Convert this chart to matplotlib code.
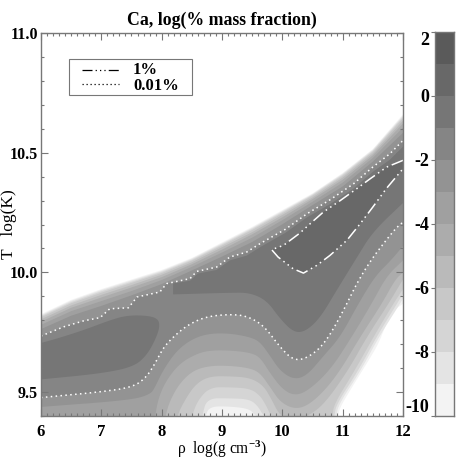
import numpy as np
import matplotlib
matplotlib.use('Agg')
import matplotlib.pyplot as plt
from matplotlib.colors import ListedColormap
from matplotlib.patches import Rectangle
from matplotlib.ticker import MultipleLocator

plt.rcParams['font.family'] = 'Liberation Serif'
plt.rcParams['font.weight'] = 'bold'
plt.rcParams['mathtext.fontset'] = 'custom'
plt.rcParams['mathtext.rm'] = 'Liberation Serif:bold'
plt.rcParams['mathtext.default'] = 'rm'
plt.rcParams['axes.unicode_minus'] = False

# colour band limits, log(% mass fraction)
levels = [-10, -9, -8, -7, -6, -5, -4, -3, -2, -1, 0, 1, 2]
grays = ['#f3f3f3', '#e4e4e4', '#d5d5d5', '#c8c8c8', '#bababa', '#acacac',
         '#a0a0a0', '#939393', '#858585', '#767676', '#686868', '#5a5a5a']

# upper edge of the abundance, per level, read at these densities
rho_top = [6, 6.5, 7, 7.5, 8, 8.5, 9, 9.5, 10, 10.5, 11, 11.5, 12]
top_m3 = [9.763, 9.819, 9.86, 9.904, 9.951, 10.008, 10.066, 10.127, 10.201, 10.281, 10.359, 10.463, 10.583]
top_m4 = [9.781, 9.838, 9.88, 9.922, 9.968, 10.023, 10.083, 10.145, 10.218, 10.295, 10.375, 10.478, 10.605]
top_m5 = [9.794, 9.852, 9.895, 9.937, 9.98, 10.034, 10.095, 10.159, 10.23, 10.306, 10.387, 10.489, 10.622]
top_m6 = [9.804, 9.862, 9.906, 9.947, 9.99, 10.042, 10.105, 10.168, 10.24, 10.313, 10.396, 10.497, 10.634]
top_m7 = [9.812, 9.871, 9.915, 9.956, 9.997, 10.049, 10.112, 10.177, 10.247, 10.32, 10.403, 10.504, 10.644]
top_m8 = [9.817, 9.876, 9.921, 9.961, 10.002, 10.053, 10.117, 10.182, 10.252, 10.324, 10.408, 10.508, 10.65]
top_m9 = [9.821, 9.881, 9.926, 9.966, 10.006, 10.057, 10.121, 10.186, 10.256, 10.327, 10.412, 10.512, 10.655]
top_m10 = [9.825, 9.885, 9.93, 9.97, 10.01, 10.06, 10.125, 10.19, 10.26, 10.33, 10.415, 10.515, 10.66]

# lower edge per level
low_m10_x = [6, 10.88, 10.92, 10.96, 11.09, 11.26, 11.43, 11.59, 11.70, 11.84, 12]
low_m10_y = [9.3, 9.3, 9.40, 9.437, 9.493, 9.563, 9.632, 9.70, 9.771, 9.84, 9.869]
low_m9_x = [6, 8.68, 8.72, 8.8, 9.13, 9.46, 9.55, 10.2, 10.85, 10.89, 10.94, 11.3, 11.6, 11.95, 12]
low_m9_y = [9.3, 9.3, 9.40, 9.44, 9.44, 9.43, 9.40, 9.3, 9.3, 9.40, 9.451, 9.59, 9.73, 9.869, 9.89]
low_m8_x = [6, 8.62, 8.67, 8.75, 9.13, 9.46, 9.6, 9.685, 10.2, 10.82, 10.86, 10.9, 11.26, 11.56, 11.9, 12]
low_m8_y = [9.3, 9.3, 9.4, 9.474, 9.474, 9.47, 9.44, 9.40, 9.3, 9.3, 9.40, 9.451, 9.59, 9.73, 9.869, 9.91]
low_m7_x = [6, 8.45, 8.5, 8.6, 8.8, 9.13, 9.46, 9.63, 9.74, 9.81, 10.2, 10.79, 10.83, 10.86, 11.2, 11.51, 11.84, 12]
low_m7_y = [9.3, 9.3, 9.4, 9.466, 9.52, 9.52, 9.515, 9.486, 9.44, 9.40, 9.3, 9.3, 9.40, 9.451, 9.59, 9.73, 9.869, 9.93]
low_m6_x = [6, 8.2, 8.25, 8.41, 8.58, 8.8, 9.13, 9.46, 9.685, 9.82, 9.96, 10.18, 10.43, 10.7, 11.09, 11.40, 11.76, 11.95, 12]
low_m6_y = [9.3, 9.3, 9.4, 9.478, 9.537, 9.566, 9.566, 9.56, 9.528, 9.47, 9.40, 9.38, 9.40, 9.451, 9.59, 9.73, 9.869, 9.95, 9.97]
low_m5_x = [6, 8.02, 8.06, 8.14, 8.3, 8.52, 8.8, 9.13, 9.46, 9.63, 9.8, 9.96, 10.18, 10.4, 10.68, 10.96, 11.29, 11.65, 11.87, 12]
low_m5_y = [9.3, 9.3, 9.40, 9.466, 9.537, 9.59, 9.61, 9.61, 9.60, 9.58, 9.52, 9.46, 9.43, 9.44, 9.5, 9.59, 9.73, 9.869, 9.97, 10.0]
low_m4_x = [6, 7.85, 7.89, 7.95, 8.08, 8.3, 8.58, 8.8, 9.13, 9.46, 9.63, 9.8, 9.99, 10.18, 10.4, 10.79, 11.15, 11.48, 11.73, 12]
low_m4_y = [9.3, 9.3, 9.40, 9.478, 9.55, 9.62, 9.66, 9.674, 9.674, 9.665, 9.646, 9.578, 9.515, 9.486, 9.50, 9.59, 9.73, 9.869, 9.985, 10.05]
low_m3_x = [6, 7.47, 7.81, 7.89, 8.02, 8.25, 8.52, 8.8, 9.13, 9.46, 9.63, 9.8, 9.96, 10.18, 10.4, 10.68, 10.96, 11.26, 11.54, 11.8, 12]
low_m3_y = [9.438, 9.466, 9.49, 9.52, 9.59, 9.674, 9.724, 9.745, 9.745, 9.73, 9.71, 9.65, 9.59, 9.553, 9.567, 9.65, 9.73, 9.869, 9.985, 10.05, 10.11]

# 0.01% contour, lower and upper branch
low_m2_x = [6.0, 6.98, 7.53, 7.75, 7.89, 8.03, 8.25, 8.47, 8.75, 9.13, 9.41, 9.69, 9.96, 10.18, 10.40, 10.68, 10.96, 11.34, 11.84, 12.0]
low_m2_y = [9.477, 9.50, 9.521, 9.563, 9.619, 9.688, 9.744, 9.786, 9.816, 9.825, 9.818, 9.779, 9.688, 9.633, 9.640, 9.695, 9.813, 10.008, 10.175, 10.21]
up_m2_x = [6, 6.37, 6.7, 6.98, 7.14, 7.45, 7.59, 7.97, 8.08, 8.47, 8.58, 8.91, 9.13, 9.41, 9.63, 10.05, 10.41, 10.79, 11.18, 11.5, 11.78, 12]
up_m2_y = [9.734, 9.772, 9.797, 9.811, 9.848, 9.852, 9.897, 9.918, 9.953, 9.974, 10.004, 10.022, 10.064, 10.085, 10.12, 10.18, 10.245, 10.303, 10.37, 10.44, 10.495, 10.551]

# -1 level: blob on the left and large region on the right
blob_x = [6, 6.98, 7.53, 7.75, 7.89, 7.97, 7.94, 7.75, 7.42, 7.14, 6.7, 6.26, 6]
blob_y = [9.553, 9.577, 9.605, 9.653, 9.716, 9.772, 9.807, 9.82, 9.82, 9.80, 9.758, 9.723, 9.705]
low_m1_x = [8.19, 9.13, 9.46, 9.74, 9.96, 10.18, 10.37, 10.62, 10.9, 11.23, 11.5, 12]
low_m1_y = [9.908, 9.915, 9.915, 9.883, 9.807, 9.751, 9.751, 9.807, 9.925, 10.06, 10.17, 10.29]
up_m1_x = [8.19, 8.47, 8.6, 8.91, 9.13, 9.41, 9.63, 10.05, 10.41, 10.79, 11.18, 11.5, 11.78, 12]
up_m1_y = [9.954, 9.965, 9.995, 10.01, 10.05, 10.07, 10.105, 10.165, 10.23, 10.285, 10.35, 10.42, 10.47, 10.525]

# 1% contour, from the right edge along the top, round the tip and back
pct1_x = [12, 11.73, 11.45, 11.23, 10.96, 10.68, 10.46, 10.29, 10.02, 9.823, 9.93, 10.18, 10.35, 10.57, 10.79, 11.07, 11.29, 11.5, 11.72, 12]
pct1_y = [10.468, 10.44, 10.39, 10.349, 10.30, 10.252, 10.203, 10.164, 10.113, 10.095, 10.064, 10.015, 9.997, 10.029, 10.071, 10.134, 10.203, 10.273, 10.349, 10.433]

frame = '#777777'


def rounded(x, y, n=3):
    # corner cutting, the ends stay where they are
    x, y = np.asarray(x, float), np.asarray(y, float)
    for _ in range(n):
        qx = 0.75 * x[:-1] + 0.25 * x[1:]
        qy = 0.75 * y[:-1] + 0.25 * y[1:]
        rx = 0.25 * x[:-1] + 0.75 * x[1:]
        ry = 0.25 * y[:-1] + 0.75 * y[1:]
        x = np.r_[x[0], np.c_[qx, rx].ravel(), x[-1]]
        y = np.r_[y[0], np.c_[qy, ry].ravel(), y[-1]]
    return x, y


def band(low_x, low_y, up_x, up_y, color):
    lx, ly = rounded(low_x, low_y)
    ax.fill(np.r_[lx, up_x[::-1]], np.r_[ly, up_y[::-1]], color=color, lw=0)


fig = plt.figure(figsize=(4.58, 4.58), dpi=100)
ax = fig.add_axes([41 / 458, 1 - 416 / 458, 362 / 458, 383 / 458])
cax = fig.add_axes([435 / 458, 1 - 416 / 458, 19 / 458, 384 / 458])

band(low_m10_x, low_m10_y, rho_top, top_m10, grays[0])
band(low_m9_x, low_m9_y, rho_top, top_m9, grays[1])
band(low_m8_x, low_m8_y, rho_top, top_m8, grays[2])
band(low_m7_x, low_m7_y, rho_top, top_m7, grays[3])
band(low_m6_x, low_m6_y, rho_top, top_m6, grays[4])
band(low_m5_x, low_m5_y, rho_top, top_m5, grays[5])
band(low_m4_x, low_m4_y, rho_top, top_m4, grays[6])
band(low_m3_x, low_m3_y, rho_top, top_m3, grays[7])
band(low_m2_x, low_m2_y, up_m2_x, up_m2_y, grays[8])
ax.fill(*rounded(blob_x, blob_y), color=grays[9], lw=0)
band(low_m1_x, low_m1_y, up_m1_x, up_m1_y, grays[9])
ax.fill(pct1_x, pct1_y, color=grays[10], lw=0)

dots = (0, (1, 2.2))
dashes = (0, (8, 2.5, 1, 2.5, 1, 2.5, 1, 2.5))
ax.plot(*rounded(low_m2_x, low_m2_y), color='white', lw=1.1, ls=dots)
ax.plot(up_m2_x, up_m2_y, color='white', lw=1.1, ls=dots)
ax.plot(pct1_x, pct1_y, color='white', lw=1.1, ls=dashes)

ax.set_xlim(6, 12)
ax.set_ylim(9.4, 11.0)
ax.xaxis.set_major_locator(MultipleLocator(1))
ax.xaxis.set_minor_locator(MultipleLocator(0.1))
ax.yaxis.set_major_locator(MultipleLocator(0.5))
ax.yaxis.set_minor_locator(MultipleLocator(0.1))
ax.tick_params(which='major', direction='in', length=5, width=0.8, color=frame, top=True, right=True, labelsize=12, pad=6)
ax.tick_params(which='minor', direction='in', length=2.5, width=0.8, color=frame, top=True, right=True)
ax.tick_params(axis='y', pad=2, labelsize=11.5)
ax.yaxis.set_major_formatter('{x:.1f}')
for s in ax.spines.values():
    s.set_color(frame)
    s.set_linewidth(1)
fig.canvas.draw()
ax.get_yticklabels()[-1].set_verticalalignment('top')

ax.set_title('Ca, log(% mass fraction)', fontsize=12.8, fontweight='bold', pad=6)
ax.set_xlabel('ρ  log(g cm$^{-3}$)', fontsize=11.2, labelpad=-1)
ax.set_ylabel('T   log(K)', fontsize=12.5)
ax.yaxis.set_label_coords(-24 / 362, 0.5)

# legend box, drawn by hand because of its wide side margins
ax.add_patch(Rectangle((27.5 / 362, 1 - 62 / 383), 123 / 362, 36 / 383, transform=ax.transAxes,
                       fc='white', ec=frame, lw=0.8, zorder=5))
ax.plot([41 / 362, 78 / 362], [1 - 37 / 383, 1 - 37 / 383], transform=ax.transAxes, color='black', lw=0.9, ls=dashes, zorder=6)
ax.plot([41 / 362, 78 / 362], [1 - 51 / 383, 1 - 51 / 383], transform=ax.transAxes, color='black', lw=0.9, ls=dots, zorder=6)
ax.text(92 / 362, 1 - 37 / 383, '1%', transform=ax.transAxes, fontsize=12, va='center', zorder=6)
ax.text(92 / 362, 1 - 52.5 / 383, '0.01%', transform=ax.transAxes, fontsize=12, va='center', zorder=6)

cmap = ListedColormap(grays)
cax.pcolormesh([0, 1], levels, np.arange(12).reshape(-1, 1), cmap=cmap, vmin=-0.5, vmax=11.5)
cax.set_xticks([])
cax.set_yticks([-10, -8, -6, -4, -2, 0, 2])
cax.tick_params(axis='y', direction='out', length=3, width=0.8, color=frame, labelsize=13, pad=1)
fig.canvas.draw()
cax.get_yticklabels()[0].set_verticalalignment('bottom')
cax.get_yticklabels()[-1].set_verticalalignment('top')
for s in cax.spines.values():
    s.set_color(frame)
    s.set_linewidth(1)

fig.savefig('out.png', dpi=100)
